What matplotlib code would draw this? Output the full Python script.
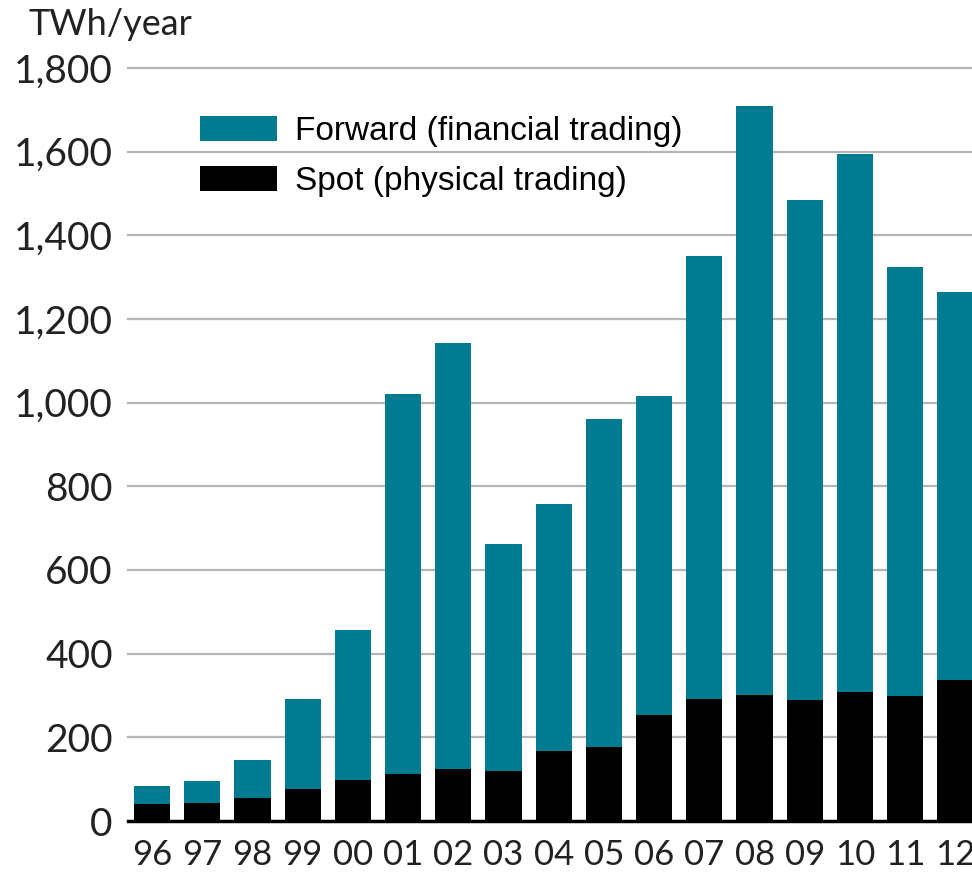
import numpy as np
import matplotlib
matplotlib.use("Agg")
import matplotlib.pyplot as plt

years = ["96", "97", "98", "99", "00", "01", "02", "03", "04", "05",
         "06", "07", "08", "09", "10", "11", "12"]
# total traded volume (spot + forward), TWh/year
total = [84, 96, 145, 291, 456, 1021, 1143, 663, 757, 962,
         1017, 1351, 1709, 1484, 1594, 1325, 1265]
spot = [41, 44, 55, 76, 97, 112, 124, 119, 167, 177,
        253, 291, 301, 289, 308, 298, 337]
forward = [t - s for t, s in zip(total, spot)]

yticks = [0, 200, 400, 600, 800, 1000, 1200, 1400, 1600, 1800]
yticklabels = ["0", "200", "400", "600", "800", "1,000", "1,200", "1,400", "1,600", "1,800"]

teal = "#007B8F"
tick_font = "Lato"

fig = plt.figure(figsize=(9.72, 8.72), dpi=100)
ax = fig.add_axes([128 / 972, 51 / 872, 1 - 128 / 972, (821 - 68) / 872])

x = np.arange(len(years))
ax.bar(x, spot, width=0.72, color="black", label="Spot (physical trading)", zorder=3)
ax.bar(x, forward, width=0.72, bottom=spot, color=teal,
       label="Forward (financial trading)", zorder=3)

ax.set_xlim(-0.478, 16.33)
ax.set_ylim(0, 1800)
ax.set_yticks(yticks)
ax.set_yticklabels(yticklabels, fontsize=28, fontfamily=tick_font)
ax.set_xticks(x)
ax.set_xticklabels(years, fontsize=25, fontfamily=tick_font)
ax.tick_params(axis="y", length=0, pad=11, labelcolor="#222222")
ax.tick_params(axis="x", length=0, pad=13, labelcolor="#222222")

for t in yticks[1:]:
    ax.axhline(t, color="#b5b5b5", lw=1.6, zorder=1, clip_on=False)

for s in ["top", "right", "left"]:
    ax.spines[s].set_visible(False)
ax.spines["bottom"].set_linewidth(2.5)
ax.spines["bottom"].set_color("black")
ax.spines["bottom"].set_zorder(4)

handles, labels = ax.get_legend_handles_labels()
leg = ax.legend(handles[::-1], labels[::-1], loc="upper left",
                bbox_to_anchor=(200 / 972, 1 - 116 / 872), bbox_transform=fig.transFigure,
                frameon=False, prop={"family": "Liberation Sans", "size": 24},
                handlelength=2.3, handleheight=0.8, handletextpad=0.55,
                labelspacing=0.55, borderpad=0, borderaxespad=0)

fig.text(28 / 972, 1 - 35 / 872, "TWh/year", fontsize=26, fontfamily=tick_font,
         va="baseline", ha="left", color="#222222")

fig.savefig("out.png", dpi=100)
